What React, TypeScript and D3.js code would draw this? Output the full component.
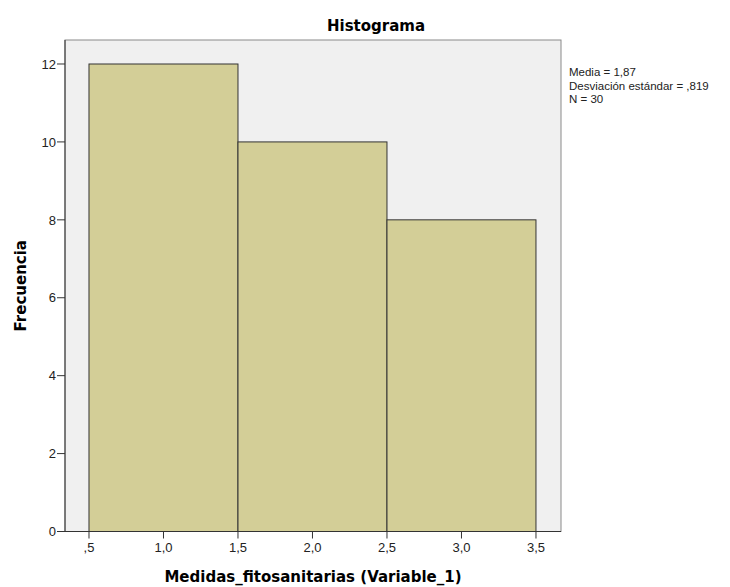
import React from "react";
import * as d3 from "d3";

const binStarts = [0.5, 1.5, 2.5];
const binEnds = [1.5, 2.5, 3.5];
const counts = [12, 10, 8];
const xTicks = [0.5, 1.0, 1.5, 2.0, 2.5, 3.0, 3.5];
const xTickLabels = [",5", "1,0", "1,5", "2,0", "2,5", "3,0", "3,5"];
const yTicks = [0, 2, 4, 6, 8, 10, 12];
const statsLines = ["Media = 1,87", "Desviación estándar = ,819", "N = 30"];

export default function App() {
  const W = 730, H = 587;
  const left = 65, right = 561, top = 40, bottom = 531.5;
  const x = d3.scaleLinear().domain([0.339, 3.668]).range([left, right]);
  const y = d3.scaleLinear().domain([0, 12.616]).range([bottom, top]);
  const font = "'Liberation Sans', Arial, sans-serif";
  const boldFont = "'DejaVu Sans', Verdana, sans-serif";
  return (
    <svg width={W} height={H} style={{ position: "absolute", left: 0, top: 0, background: "#fff" }} fontFamily={font}>
      <rect x={left} y={top} width={right - left} height={bottom - top} fill="#F0F0F0" stroke="#8a8a8a" strokeWidth={1} />
      {counts.map((c, i) => (
        <rect key={i} x={x(binStarts[i])} y={y(c)} width={x(binEnds[i]) - x(binStarts[i])} height={y(0) - y(c)}
          fill="#D3CE97" stroke="#333" strokeWidth={1} />
      ))}
      <line x1={left} x2={left} y1={top} y2={bottom} stroke="#333" />
      <line x1={left} x2={right} y1={bottom} y2={bottom} stroke="#333" />
      {yTicks.map((t) => (
        <g key={t}>
          <line x1={left - 8} x2={left} y1={y(t)} y2={y(t)} stroke="#333" />
          <text x={left - 9} y={y(t)} dy="0.36em" textAnchor="end" fontSize={13} fill="#222">{t}</text>
        </g>
      ))}
      {xTicks.map((t, i) => (
        <g key={t}>
          <line x1={x(t)} x2={x(t)} y1={bottom} y2={bottom + 7} stroke="#333" />
          <text x={x(t)} y={bottom + 20} textAnchor="middle" fontSize={13} fill="#222">{xTickLabels[i]}</text>
        </g>
      ))}
      <text x={376} y={31} textAnchor="middle" fontSize={15} fontWeight="bold" fontFamily={boldFont} fill="#000">Histograma</text>
      <text x={(left + right) / 2} y={582} textAnchor="middle" fontSize={15} fontWeight="bold" fontFamily={boldFont} fill="#000">Medidas_fitosanitarias (Variable_1)</text>
      <text transform={`translate(26,${(top + bottom) / 2}) rotate(-90)`} textAnchor="middle" fontSize={15} fontWeight="bold" fontFamily={boldFont} fill="#000">Frecuencia</text>
      {statsLines.map((s, i) => (
        <text key={i} x={569} y={76 + i * 13.5} fontSize={11.5} fill="#222">{s}</text>
      ))}
    </svg>
  );
}
